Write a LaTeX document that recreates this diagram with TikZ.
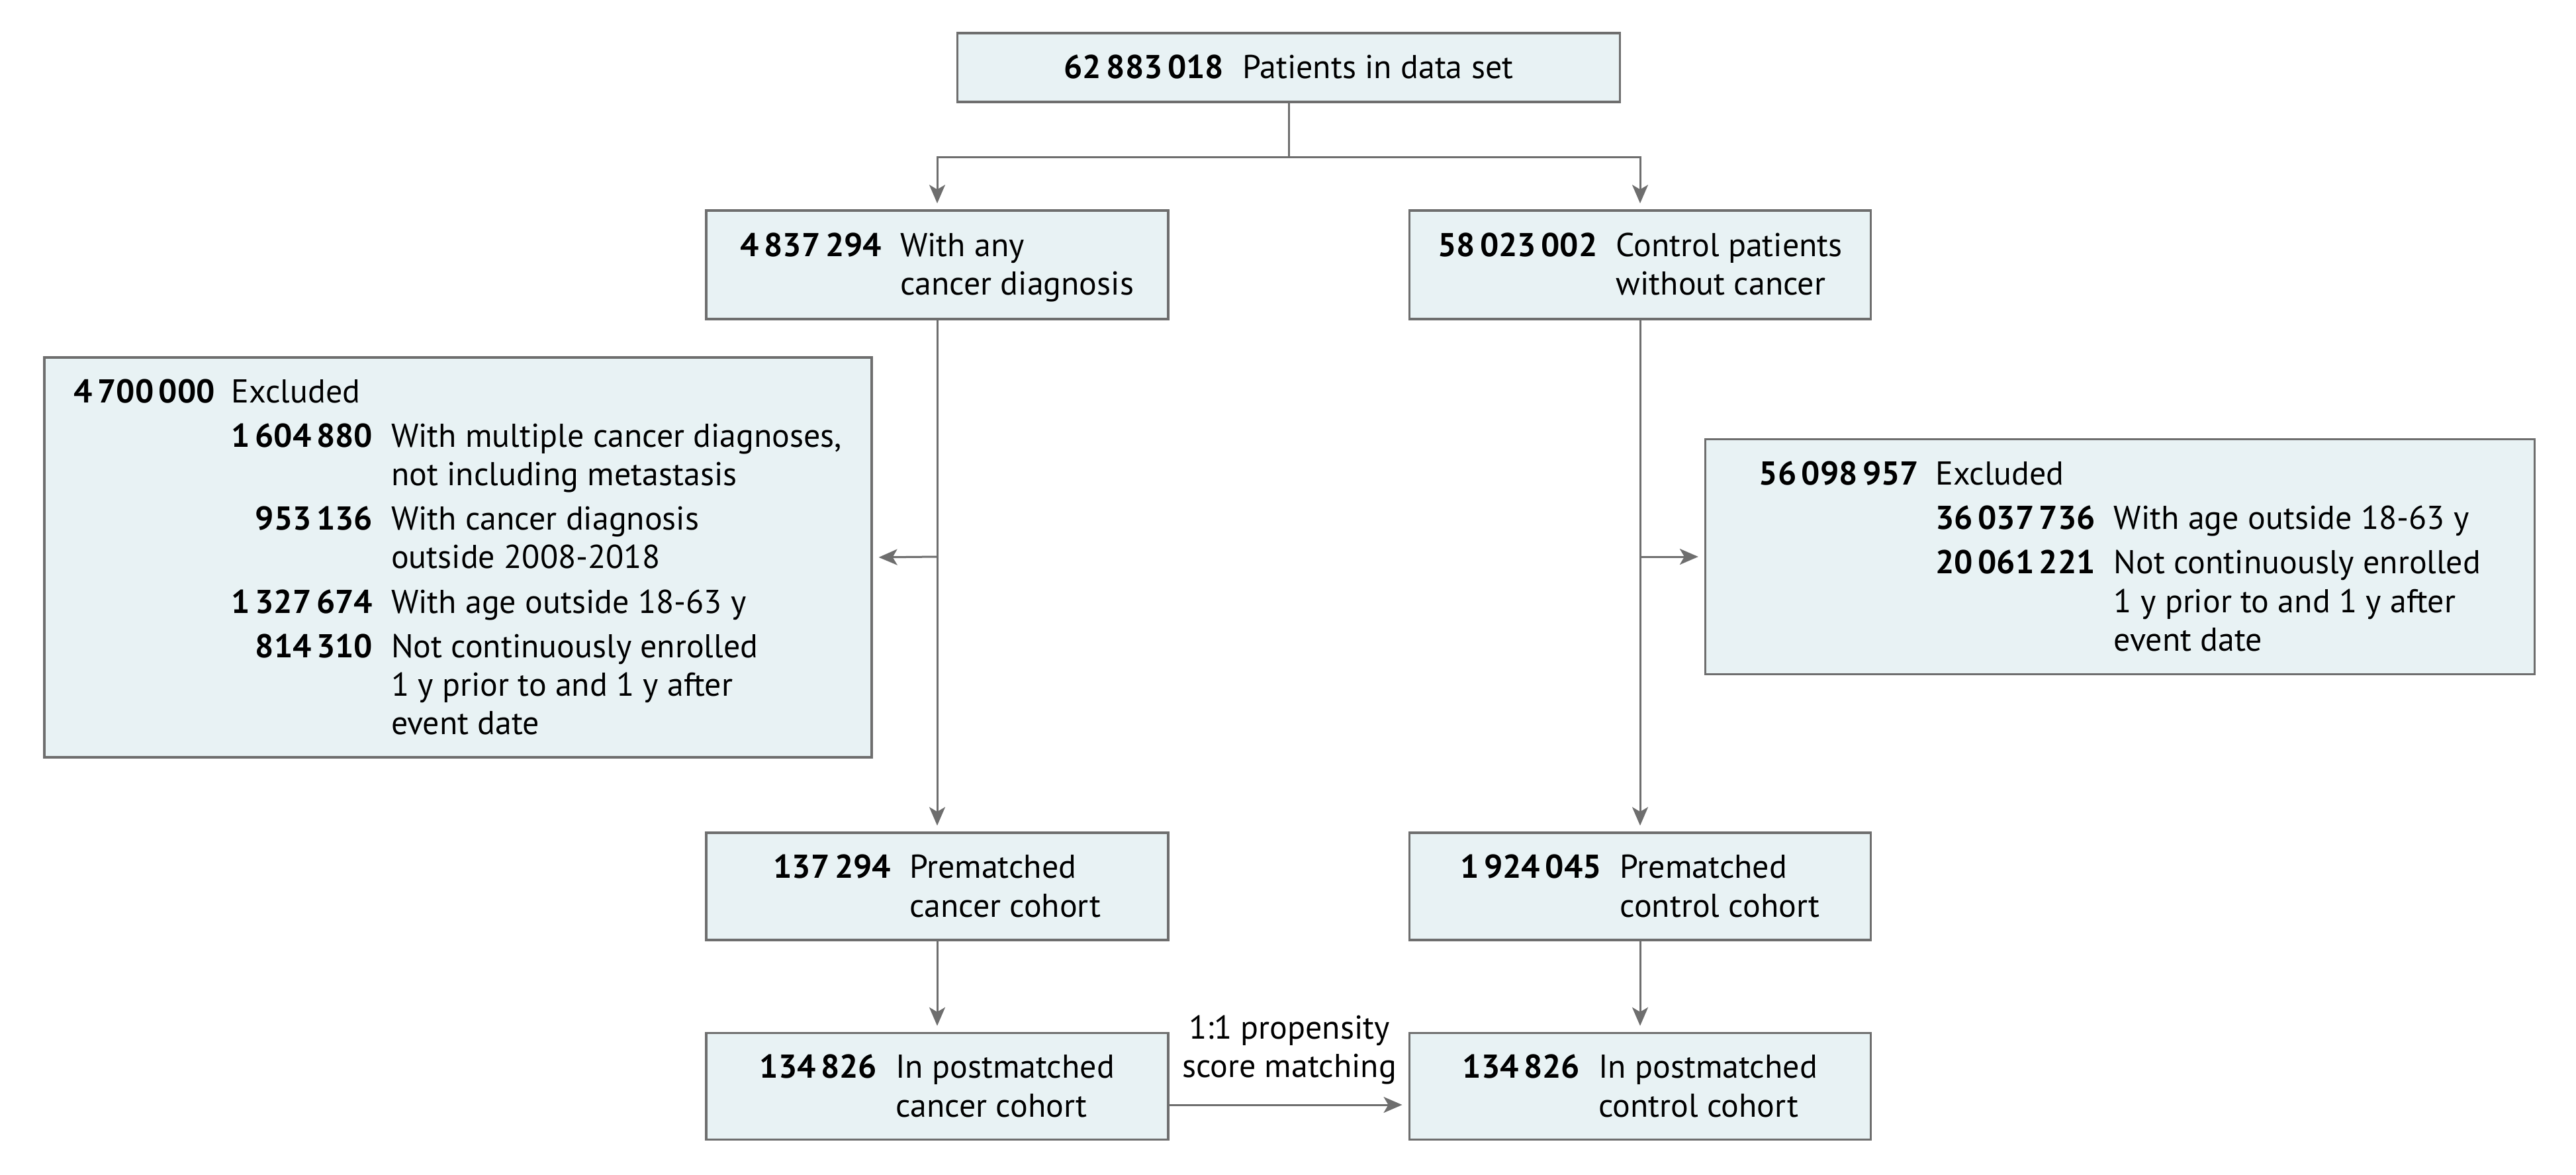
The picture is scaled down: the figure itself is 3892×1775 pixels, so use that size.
\documentclass[tikz,border=0pt]{standalone}
\usepackage{fontspec}
\setmainfont{PT Sans}
\usetikzlibrary{arrows.meta}
\definecolor{boxfill}{HTML}{E8F2F4}
\definecolor{linegray}{HTML}{6E6E6E}
\newcommand{\gsp}{\hspace{0.15em}}
\newcommand{\nbr}[1]{\textbf{#1}}
\newcommand{\tp}{\rule{0pt}{14.6pt}}
\begin{document}
\begin{tikzpicture}[x=0.01cm,y=-0.01cm,
  font=\fontsize{14.2}{16.5}\selectfont,
  box/.style={draw=linegray, fill=boxfill, line width=0.035cm, inner sep=0pt, align=center},
  conn/.style={draw=linegray, line width=0.03cm},
  arr/.style={conn, -{Stealth[length=0.28cm,width=0.24cm,inset=0.07cm]}, shorten >=0.09cm}
]
\useasboundingbox (0,0) rectangle (3892,1775);

\node[box, minimum width=10cm, minimum height=1.04cm] (top) at (1947,102)
  {\begin{tabular}{@{}r@{\hspace{0.28cm}}l@{}}\tp\nbr{62\gsp883\gsp018} & Patients in data set\end{tabular}};

\node[box, minimum width=6.98cm, minimum height=1.64cm] (canc) at (1416,400)
  {\begin{tabular}{@{}r@{\hspace{0.28cm}}l@{}}\tp\nbr{4\gsp837\gsp294} & With any\\ & cancer diagnosis\end{tabular}};
\node[box, minimum width=6.97cm, minimum height=1.64cm] (ctrl) at (2478,400)
  {\begin{tabular}{@{}r@{\hspace{0.28cm}}l@{}}\tp\nbr{58\gsp023\gsp002} & Control patients\\ & without cancer\end{tabular}};

\node[box, minimum width=12.49cm, minimum height=6.04cm] (exL) at (692,842)
  {\begin{tabular}{@{}r@{\hspace{0.25cm}}r@{\hspace{0.28cm}}l@{}}
   \tp\nbr{4\gsp700\gsp000} & \multicolumn{2}{@{}l@{}}{Excluded}\\[0.09cm]
   & \nbr{1\gsp604\gsp880} & With multiple cancer diagnoses,\\
   & & not including metastasis\\[0.09cm]
   & \nbr{953\gsp136} & With cancer diagnosis\\
   & & outside 2008-2018\\[0.09cm]
   & \nbr{1\gsp327\gsp674} & With age outside 18-63 y\\[0.09cm]
   & \nbr{814\gsp310} & Not continuously enrolled\\
   & & 1 y prior to and 1 y after\\
   & & event date
   \end{tabular}};

\node[box, minimum width=12.52cm, minimum height=3.55cm] (exR) at (3203,841)
  {\begin{tabular}{@{}r@{\hspace{0.25cm}}r@{\hspace{0.28cm}}l@{}}
   \tp\nbr{56\gsp098\gsp957} & \multicolumn{2}{@{}l@{}}{Excluded}\\[0.09cm]
   & \nbr{36\gsp037\gsp736} & With age outside 18-63 y\\[0.09cm]
   & \nbr{20\gsp061\gsp221} & Not continuously enrolled\\
   & & 1 y prior to and 1 y after\\
   & & event date
   \end{tabular}};

\node[box, minimum width=6.98cm, minimum height=1.62cm] (preL) at (1416,1339)
  {\begin{tabular}{@{}r@{\hspace{0.28cm}}l@{}}\tp\nbr{137\gsp294} & Prematched\\ & cancer cohort\end{tabular}};
\node[box, minimum width=6.97cm, minimum height=1.62cm] (preR) at (2478,1339)
  {\begin{tabular}{@{}r@{\hspace{0.28cm}}l@{}}\tp\nbr{1\gsp924\gsp045} & Prematched\\ & control cohort\end{tabular}};

\node[box, minimum width=6.98cm, minimum height=1.61cm] (postL) at (1416,1641)
  {\begin{tabular}{@{}r@{\hspace{0.28cm}}l@{}}\tp\nbr{134\gsp826} & In postmatched\\ & cancer cohort\end{tabular}};
\node[box, minimum width=6.97cm, minimum height=1.61cm] (postR) at (2478,1641)
  {\begin{tabular}{@{}r@{\hspace{0.28cm}}l@{}}\tp\nbr{134\gsp826} & In postmatched\\ & control cohort\end{tabular}};

\node[align=center, inner sep=0pt] (lbl) at (1948,1586) {1:1 propensity\\score matching};

\coordinate (split) at (1947,237);
\coordinate (bL) at (1416,841);
\coordinate (bR) at (2478,841);

\draw[conn] (top.south) -- (split);
\draw[arr] (split) -| (canc.north);
\draw[arr] (split) -| (ctrl.north);
\draw[arr] (canc.south) -- (preL.north);
\draw[arr] (ctrl.south) -- (preR.north);
\draw[arr] (bL) -- (exL.east);
\draw[arr] (bR) -- (exR.west);
\draw[arr] (preL.south) -- (postL.north);
\draw[arr] (preR.south) -- (postR.north);
\draw[arr] ([yshift=-0.28cm]postL.east) -- ([yshift=-0.28cm]postR.west);
\end{tikzpicture}
\end{document}
